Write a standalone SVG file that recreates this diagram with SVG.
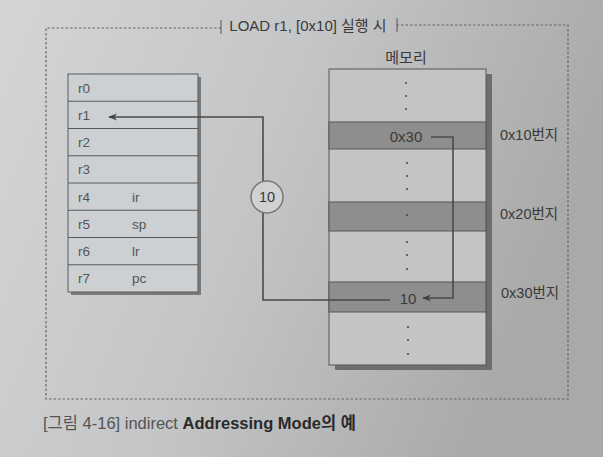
<svg xmlns="http://www.w3.org/2000/svg" width="603" height="457" viewBox="0 0 603 457">
<defs>
<linearGradient id="bg" x1="0" y1="0" x2="1" y2="0.3">
<stop offset="0" stop-color="#d3d5d7"/>
<stop offset="0.5" stop-color="#c4c5c6"/>
<stop offset="1" stop-color="#a9a9a8"/>
</linearGradient>
<marker id="ah" viewBox="0 0 10 10" refX="9" refY="5" markerWidth="9" markerHeight="9" markerUnits="userSpaceOnUse" orient="auto">
<path d="M0,1 L10,5 L0,9 L3,5 Z" fill="#444"/>
</marker>
<style>
text{font-family:"Liberation Sans","Noto Sans CJK KR",sans-serif;fill:#3a3a3a}
.reg{font-size:13.5px;fill:#555}
.lbl{font-size:14.5px}
.cell{fill:none;stroke:#5a5a5a;stroke-width:1}
.dash{fill:none;stroke:#666;stroke-width:1.2;stroke-dasharray:2.5,2}
.band{fill:#8e8e8e;stroke:#555;stroke-width:1}
.dot{fill:#444}
.conn{fill:none;stroke:#4a4a4a;stroke-width:1.6}
</style>
</defs>
<rect x="0" y="0" width="603" height="457" fill="url(#bg)"/>

<g id="frame">
<path class="dash" d="M221,28 H46 V399 H568 V25 H397"/>
<line x1="221" y1="20" x2="221" y2="34" stroke="#555" stroke-width="1"/>
<line x1="397" y1="18" x2="397" y2="32" stroke="#555" stroke-width="1"/>
<text x="308" y="31" text-anchor="middle" font-size="15">LOAD r1, [0x10] 실행 시</text>
</g>

<g id="registers">
<rect x="71" y="77" width="130" height="218" fill="#7a7a7a"/>
<rect x="68" y="74" width="130" height="218" fill="#cdd0d2" stroke="#5a5a5a"/>
<line class="cell" x1="68" y1="101.25" x2="198" y2="101.25"/>
<line class="cell" x1="68" y1="128.5" x2="198" y2="128.5"/>
<line class="cell" x1="68" y1="155.75" x2="198" y2="155.75"/>
<line class="cell" x1="68" y1="183" x2="198" y2="183"/>
<line class="cell" x1="68" y1="210.25" x2="198" y2="210.25"/>
<line class="cell" x1="68" y1="237.5" x2="198" y2="237.5"/>
<line class="cell" x1="68" y1="264.75" x2="198" y2="264.75"/>
<text class="reg" x="78" y="92.5">r0</text>
<text class="reg" x="78" y="119.5">r1</text>
<text class="reg" x="78" y="147">r2</text>
<text class="reg" x="78" y="174">r3</text>
<text class="reg" x="78" y="201.5">r4</text>
<text class="reg" x="132" y="201.5">ir</text>
<text class="reg" x="78" y="228.5">r5</text>
<text class="reg" x="132" y="228.5">sp</text>
<text class="reg" x="78" y="256">r6</text>
<text class="reg" x="132" y="256">lr</text>
<text class="reg" x="78" y="283">r7</text>
<text class="reg" x="132" y="283">pc</text>
</g>

<g id="memory">
<text x="406" y="63" text-anchor="middle" font-size="15">메모리</text>
<rect x="335" y="74" width="157" height="296" fill="#6e6e6e"/>
<rect x="329" y="69" width="157" height="296" fill="#c3c4c5" stroke="#555"/>
<rect class="band" x="329" y="122" width="157" height="27"/>
<rect class="band" x="329" y="202" width="157" height="29"/>
<rect class="band" x="329" y="282" width="157" height="30"/>
<circle class="dot" cx="406" cy="83" r="1"/>
<circle class="dot" cx="406" cy="96" r="1"/>
<circle class="dot" cx="406" cy="109" r="1"/>
<circle class="dot" cx="407" cy="163" r="1"/>
<circle class="dot" cx="407" cy="176" r="1"/>
<circle class="dot" cx="407" cy="189" r="1"/>
<circle class="dot" cx="407" cy="215" r="1"/>
<circle class="dot" cx="407" cy="242" r="1"/>
<circle class="dot" cx="407" cy="255" r="1"/>
<circle class="dot" cx="407" cy="269" r="1"/>
<circle class="dot" cx="408" cy="327" r="1"/>
<circle class="dot" cx="408" cy="340" r="1"/>
<circle class="dot" cx="408" cy="354" r="1"/>
<text x="406" y="142" text-anchor="middle" font-size="15">0x30</text>
<text x="408" y="304" text-anchor="middle" font-size="15">10</text>
</g>

<g id="addresses">
<text class="lbl" x="500" y="140">0x10번지</text>
<text class="lbl" x="500" y="219">0x20번지</text>
<text class="lbl" x="501" y="298">0x30번지</text>
</g>

<g id="connectors">
<path class="conn" d="M390,300 H263 V117 H109" marker-end="url(#ah)"/>
<path class="conn" d="M431,137 H453 V298 H423" marker-end="url(#ah)"/>
</g>

<g id="value-badge">
<circle cx="267" cy="197" r="16" fill="#cfd1d3" stroke="#777" stroke-width="1.5"/>
<text class="lbl" x="267" y="202" text-anchor="middle">10</text>
</g>

<g id="caption">
<text x="43" y="429" font-size="16.5"><tspan fill="#555">[그림 4-16] indirect </tspan><tspan fill="#2a2a2a" font-weight="bold">Addressing Mode의 예</tspan></text>
</g>
</svg>
